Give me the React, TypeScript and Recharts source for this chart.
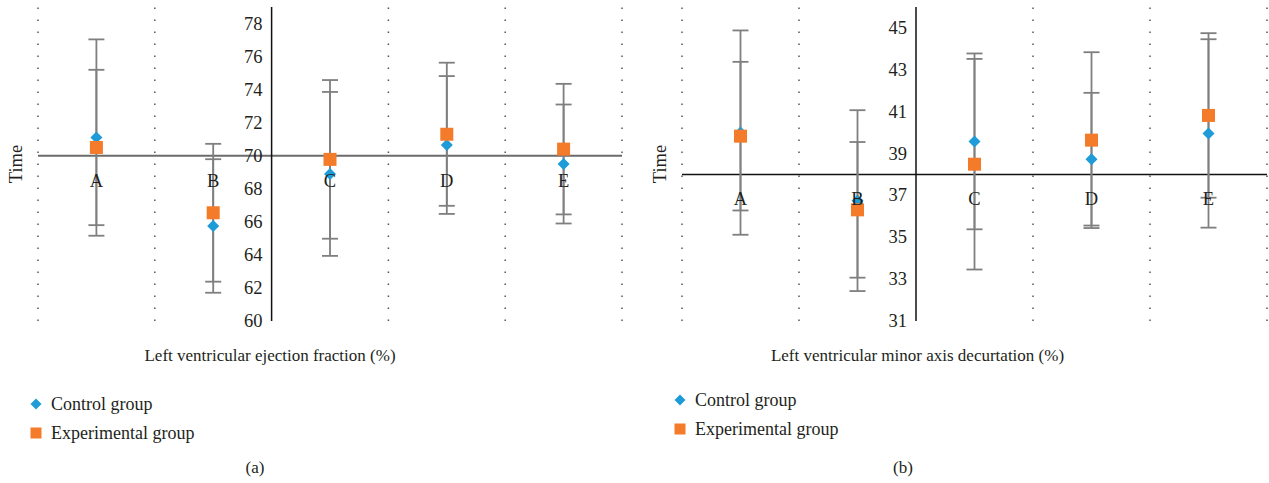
import React from 'react';
import { ComposedChart, Scatter, ErrorBar, XAxis, YAxis, ReferenceLine, Legend } from 'recharts';

const categories = ['A', 'B', 'C', 'D', 'E'];

// Panel (a): Left ventricular ejection fraction (%)
const efControl = [71.1, 65.75, 68.9, 70.65, 69.5];
const efControlErr = [5.94, 4.04, 4.96, 4.17, 3.6];
const efExp = [70.5, 66.55, 69.78, 71.3, 70.4];
const efExpErr = [4.7, 4.17, 4.8, 4.33, 3.95];
const efTicks = [60, 62, 64, 66, 68, 70, 72, 74, 76, 78];
const efDomain: [number, number] = [60, 79];
const efCross = 70;

// Panel (b): Left ventricular minor axis decurtation (%)
const madControl = [40.0, 36.75, 39.58, 38.73, 39.96];
const madControlErr = [4.88, 4.32, 4.2, 3.17, 4.5];
const madExp = [39.83, 36.31, 38.49, 39.64, 40.82];
const madExpErr = [3.55, 3.24, 5.03, 4.2, 3.93];
const madTicks = [31, 33, 35, 37, 39, 41, 43, 45];
const madDomain: [number, number] = [31, 46];
const madCross = 38;

const seriesNames = ['Control group', 'Experimental group'];

const FONT = "'Liberation Serif', 'Times New Roman', serif";
const FS = 17;
const TICK_FS = 18.5;
const LEGEND_FS = 18;
const TEXT = '#231f20';
const BLUE = '#1f9bd7';
const ORANGE = '#f47b2a';
const ERR = '#7f7f7f';

const H = 483;
const PLOT_TOP = 7;
const PLOT_BOTTOM = 321;
const X_AXIS_H = 40;
const Y_AXIS_W = 30;

const Diamond = (props: any) => {
  const { cx, cy, fill } = props;
  const r = 6;
  return <polygon points={`${cx},${cy - r} ${cx + r},${cy} ${cx},${cy + r} ${cx - r},${cy}`} fill={fill} />;
};
const Square = (props: any) => {
  const { cx, cy, fill } = props;
  const r = 6.5;
  return <rect x={cx - r} y={cy - r} width={2 * r} height={2 * r} fill={fill} />;
};
const Nothing = () => <g />;

function LegendIcon({ name }: { name: string }) {
  return (
    <svg width={20} height={14} style={{ display: 'block' }}>
      {name === seriesNames[0] ? (
        <polygon points="10,1.5 15.5,7 10,12.5 4.5,7" fill={BLUE} />
      ) : (
        <rect x={4.5} y={1.5} width={11} height={11} fill={ORANGE} />
      )}
    </svg>
  );
}

function Panel(props: any) {
  const {
    offsetLeft, chartWidth, plotLeft, plotRight, domain, ticks, cross,
    control, controlErr, exp, expErr, title, titleDx, caption, captionX,
    legendLeft, legendTop, timeX, hColor, hWidth,
  } = props;
  const plotW = plotRight - plotLeft;
  const plotH = PLOT_BOTTOM - PLOT_TOP;
  const xMin = 0.5;
  const xMax = categories.length + 0.5;
  const axisCrossX = 2.5;
  const sx = (v: number) => plotLeft + ((v - xMin) / (xMax - xMin)) * plotW;
  const sy = (v: number) => PLOT_TOP + ((domain[1] - v) / (domain[1] - domain[0])) * plotH;
  const yAxisX = sx(axisCrossX);
  const crossY = sy(cross);

  const controlData = categories.map((c, i) => ({ x: i + 1, y: control[i], err: controlErr[i] }));
  const expData = categories.map((c, i) => ({ x: i + 1, y: exp[i], err: expErr[i] }));
  const grid = categories.map((_, i) => i + 0.5).concat([xMax]).filter((v) => v !== axisCrossX);

  const XTick = (p: any) => (
    <text x={p.x} y={crossY + 25} textAnchor="middle" dominantBaseline="central" fill={TEXT} fontSize={TICK_FS} fontFamily={FONT}>
      {categories[p.payload.value - 1]}
    </text>
  );
  const YTick = (p: any) => (
    <text x={yAxisX - 9} y={p.y} textAnchor="end" dominantBaseline="central" fill={TEXT} fontSize={TICK_FS} fontFamily={FONT}>
      {p.payload.value}
    </text>
  );

  const renderLegend = (lp: any) => {
    const items = (lp.payload || []).filter((e: any) => seriesNames.includes(e.value));
    return (
      <div style={{ fontFamily: FONT, fontSize: LEGEND_FS, color: TEXT }}>
        {items.map((e: any) => (
          <div key={e.value} style={{ display: 'flex', alignItems: 'center', height: 29, whiteSpace: 'nowrap' }}>
            <LegendIcon name={e.value} />
            <span style={{ marginLeft: 5 }}>{e.value}</span>
          </div>
        ))}
      </div>
    );
  };

  return (
    <div style={{ position: 'absolute', left: offsetLeft, top: 0, width: chartWidth, height: H }}>
      <ComposedChart
        width={chartWidth}
        height={H}
        margin={{ top: PLOT_TOP, left: plotLeft - Y_AXIS_W, right: chartWidth - plotRight, bottom: H - PLOT_BOTTOM - X_AXIS_H }}
      >
        <XAxis
          type="number"
          dataKey="x"
          domain={[xMin, xMax]}
          ticks={categories.map((_, i) => i + 1)}
          interval={0}
          allowDataOverflow
          axisLine={false}
          tickLine={false}
          height={X_AXIS_H}
          tick={XTick}
          label={{ value: title, position: 'insideBottom', offset: 0, dx: titleDx, fill: TEXT, fontSize: FS, fontFamily: FONT }}
        />
        <YAxis
          type="number"
          dataKey="y"
          domain={domain}
          ticks={ticks}
          interval={0}
          allowDataOverflow
          axisLine={false}
          tickLine={false}
          width={Y_AXIS_W}
          tick={YTick}
          label={{
            value: 'Time',
            content: () => (
              <text
                x={timeX}
                y={(PLOT_TOP + PLOT_BOTTOM) / 2}
                transform={`rotate(-90 ${timeX} ${(PLOT_TOP + PLOT_BOTTOM) / 2})`}
                textAnchor="middle"
                dominantBaseline="central"
                fill={TEXT}
                fontSize={TICK_FS}
                fontFamily={FONT}
              >
                Time
              </text>
            ),
          }}
        />
        {grid.map((v) => (
          <ReferenceLine key={v} x={v} stroke="#555" strokeWidth={1.5} strokeDasharray="1.5 10.5" />
        ))}
        <ReferenceLine y={cross} stroke={hColor} strokeWidth={hWidth} />
        <ReferenceLine x={axisCrossX} stroke="#111" strokeWidth={1.5} />
        <Scatter name="control-err" data={controlData} legendType="none" shape={Nothing} isAnimationActive={false}>
          <ErrorBar dataKey="err" direction="y" width={8} stroke={ERR} strokeWidth={1.8} />
        </Scatter>
        <Scatter name="exp-err" data={expData} legendType="none" shape={Nothing} isAnimationActive={false}>
          <ErrorBar dataKey="err" direction="y" width={8} stroke={ERR} strokeWidth={1.8} />
        </Scatter>
        <Scatter name={seriesNames[0]} data={controlData} fill={BLUE} shape={Diamond} isAnimationActive={false} />
        <Scatter name={seriesNames[1]} data={expData} fill={ORANGE} shape={Square} isAnimationActive={false} />
        <Legend
          layout="vertical"
          verticalAlign="middle"
          align="center"
          wrapperStyle={{ top: legendTop, left: legendLeft, width: 300 }}
          content={renderLegend}
        />
      </ComposedChart>
      <div
        style={{
          position: 'absolute', left: captionX - 50, top: 458, width: 100, textAlign: 'center',
          fontFamily: FONT, fontSize: FS, color: TEXT, lineHeight: '20px',
        }}
      >
        {caption}
      </div>
    </div>
  );
}

export default function App() {
  return (
    <div style={{ position: 'absolute', left: 0, top: 0, width: 1269, height: H, background: '#fff' }}>
      <Panel
        offsetLeft={0}
        chartWidth={640}
        plotLeft={38}
        plotRight={622}
        domain={efDomain}
        ticks={efTicks}
        cross={efCross}
        control={efControl}
        controlErr={efControlErr}
        exp={efExp}
        expErr={efExpErr}
        title="Left ventricular ejection fraction (%)"
        titleDx={-60}
        caption="(a)"
        captionX={255}
        legendLeft={26}
        legendTop={389.5}
        timeX={16}
        hColor="#6b6b6b"
        hWidth={2}
      />
      <Panel
        offsetLeft={640}
        chartWidth={629}
        plotLeft={42}
        plotRight={627}
        domain={madDomain}
        ticks={madTicks}
        cross={madCross}
        control={madControl}
        controlErr={madControlErr}
        exp={madExp}
        expErr={madExpErr}
        title="Left ventricular minor axis decurtation (%)"
        titleDx={-57}
        caption="(b)"
        captionX={263}
        legendLeft={30}
        legendTop={385.5}
        timeX={20}
        hColor="#111"
        hWidth={1.5}
      />
    </div>
  );
}
